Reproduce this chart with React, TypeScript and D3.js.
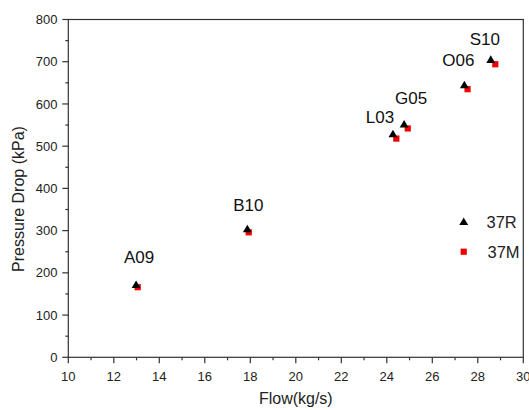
import React from 'react';
import * as d3 from 'd3';

const categories = ['A09', 'B10', 'L03', 'G05', 'O06', 'S10'];
const flow37R = [12.98, 17.87, 24.27, 24.76, 27.41, 28.57];
const dp37R = [170, 302, 527, 550, 643, 703];
const flow37M = [13.05, 17.93, 24.42, 24.92, 27.55, 28.77];
const dp37M = [166, 296, 518, 542, 635, 694];
const seriesNames = ['37R', '37M'];
const xTickValues = [10, 12, 14, 16, 18, 20, 22, 24, 26, 28, 30];
const yTickValues = [0, 100, 200, 300, 400, 500, 600, 700, 800];

// label placement (pixel offsets from the 37R marker)
const labelDx = [3, 1, -13, 7, -6, -6];
const labelDy = [-23, -19, -12, -21, -20, -15.5];

const W = 529;
const H = 410;
const M = { left: 68.3, right: 523.3, top: 19.5, bottom: 357.3 };
const FONT = 'Liberation Sans, Arial, sans-serif';
const AXIS = '#333';

export default function App() {
  const x = d3.scaleLinear().domain([10, 30]).range([M.left, M.right]);
  const y = d3.scaleLinear().domain([0, 800]).range([M.bottom, M.top]);
  const xMinor = d3.range(11, 30, 2);
  const yMinor = d3.range(50, 800, 100);
  const tri = d3.symbol().type(d3.symbolTriangle).size(34)();
  const sq = 6.2;

  return (
    <svg
      width={W}
      height={H}
      style={{ position: 'absolute', left: 0, top: 0, background: '#fff' }}
      fontFamily={FONT}
    >
      <rect x={0} y={0} width={W} height={H} fill="#fff" />
      {/* frame */}
      <rect
        x={M.left}
        y={M.top}
        width={M.right - M.left}
        height={M.bottom - M.top}
        fill="none"
        stroke={AXIS}
        strokeWidth={1.2}
      />
      {/* x ticks */}
      {xTickValues.map((v) => (
        <g key={'xt' + v}>
          <line x1={x(v)} x2={x(v)} y1={M.bottom} y2={M.bottom + 6} stroke={AXIS} strokeWidth={1.2} />
          <text x={x(v)} y={380.5} textAnchor="middle" fontSize={13} fill="#222">
            {v}
          </text>
        </g>
      ))}
      {xMinor.map((v) => (
        <line key={'xm' + v} x1={x(v)} x2={x(v)} y1={M.bottom} y2={M.bottom + 3} stroke={AXIS} strokeWidth={1.2} />
      ))}
      {/* y ticks */}
      {yTickValues.map((v) => (
        <g key={'yt' + v}>
          <line x1={M.left - 6} x2={M.left} y1={y(v)} y2={y(v)} stroke={AXIS} strokeWidth={1.2} />
          <text x={57.5} y={y(v) + 4.6} textAnchor="end" fontSize={13} fill="#222">
            {v}
          </text>
        </g>
      ))}
      {yMinor.map((v) => (
        <line key={'ym' + v} x1={M.left - 3} x2={M.left} y1={y(v)} y2={y(v)} stroke={AXIS} strokeWidth={1.2} />
      ))}
      {/* axis titles */}
      <text x={(M.left + M.right) / 2} y={404} textAnchor="middle" fontSize={16} fill="#222">
        Flow(kg/s)
      </text>
      <text
        transform={`translate(23.5, 199) rotate(-90)`}
        textAnchor="middle"
        fontSize={16}
        fill="#222"
      >
        Pressure Drop (kPa)
      </text>
      {/* 37M squares */}
      {flow37M.map((f, i) => (
        <rect
          key={'m' + i}
          x={x(f) - sq / 2}
          y={y(dp37M[i]) - sq / 2}
          width={sq}
          height={sq}
          fill="#ee0000"
        />
      ))}
      {/* 37R triangles */}
      {flow37R.map((f, i) => (
        <path key={'r' + i} d={tri!} transform={`translate(${x(f)},${y(dp37R[i])})`} fill="#000" />
      ))}
      {/* point labels */}
      {categories.map((c, i) => (
        <text
          key={'l' + c}
          x={x(flow37R[i]) + labelDx[i]}
          y={y(dp37R[i]) + labelDy[i]}
          textAnchor="middle"
          fontSize={17}
          fill="#111"
        >
          {c}
        </text>
      ))}
      {/* legend */}
      <path d={tri!} transform={`translate(463.7,222.5)`} fill="#000" />
      <text x={486.5} y={228} fontSize={16.5} fill="#222">
        {seriesNames[0]}
      </text>
      <rect x={463.7 - sq / 2} y={251.7 - sq / 2} width={sq} height={sq} fill="#ee0000" />
      <text x={487.5} y={257.5} fontSize={16.5} fill="#222">
        {seriesNames[1]}
      </text>
    </svg>
  );
}
